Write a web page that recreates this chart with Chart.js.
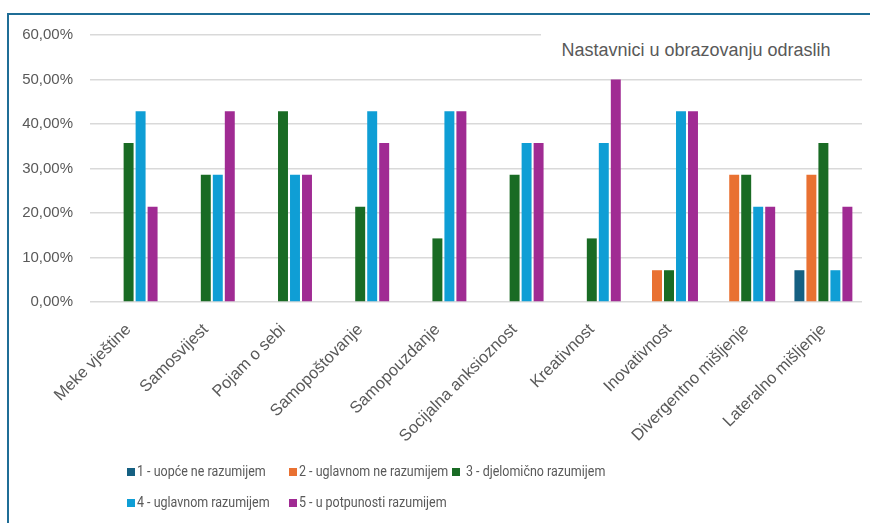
<!DOCTYPE html>
<html>
<head>
<meta charset="utf-8">
<script src="https://cdn.jsdelivr.net/npm/chart.js@4.4.1/dist/chart.umd.min.js"></script>
<style>
  html, body { margin: 0; padding: 0; background: #ffffff; }
  #wrap { position: relative; width: 870px; height: 523px; overflow: hidden; background: #fff; }
  #frame { position: absolute; left: 7px; top: 13px; width: 880px; height: 530px;
           border-top: 2px solid #1f6d96; border-left: 2px solid #1f6d96; box-sizing: border-box; pointer-events: none; }
  #cv { position: absolute; left: 0; top: 0; }
  #title { position: absolute; left: 541px; top: 30px; width: 321px; height: 47px; background: #fff;
           box-sizing: border-box; padding-right: 11px;
           font-family: "Liberation Sans", Arial, sans-serif; font-size: 18px; color: #595959;
           text-align: center; line-height: 40px; }
  #legend { position: absolute; left: 127px; top: 462px; display: grid;
            grid-template-columns: 162px 163px 200px; row-gap: 12px;
            font-family: Roboto, "Liberation Sans", sans-serif; font-size: 14.5px; color: #595959; }
  .li { display: flex; align-items: center; height: 19px; white-space: nowrap; }
  .sw { width: 8px; height: 8px; margin-right: 2px; flex: none; }
  .tx { display: inline-block; transform: scaleX(0.86); transform-origin: 0 50%; }
</style>
</head>
<body>
<div id="wrap">
  <canvas id="cv" width="870" height="523"></canvas>
  <div id="title"></div>
  <div id="legend"></div>
  <div id="frame"></div>
</div>
<script>
const chartTitle = "Nastavnici u obrazovanju odraslih";
const categories = ["Meke vještine", "Samosvijest", "Pojam o sebi", "Samopoštovanje", "Samopouzdanje",
                    "Socijalna anksioznost", "Kreativnost", "Inovativnost", "Divergentno mišljenje", "Lateralno mišljenje"];
const seriesNames = ["1 - uopće ne razumijem", "2 - uglavnom ne razumijem", "3 - djelomično razumijem",
                     "4 - uglavnom razumijem", "5 - u potpunosti razumijem"];
const seriesColors = ["#156082", "#E97132", "#196B24", "#0F9ED5", "#A02B93"];
const s1 = [null, null, null, null, null, null, null, null, null, 7.14];
const s2 = [null, null, null, null, null, null, null, 7.14, 28.57, 28.57];
const s3 = [35.71, 28.57, 42.86, 21.43, 14.29, 28.57, 14.29, 7.14, 28.57, 35.71];
const s4 = [42.86, 28.57, 28.57, 42.86, 42.86, 35.71, 35.71, 42.86, 21.43, 7.14];
const s5 = [21.43, 42.86, 28.57, 35.71, 42.86, 35.71, 50.00, 42.86, 21.43, 21.43];
const seriesValues = [s1, s2, s3, s4, s5];
const yTicks = [0, 10, 20, 30, 40, 50, 60];

document.getElementById('title').textContent = chartTitle;
const leg = document.getElementById('legend');
seriesNames.forEach((n, i) => {
  const d = document.createElement('div'); d.className = 'li';
  const sw = document.createElement('span'); sw.className = 'sw'; sw.style.background = seriesColors[i];
  if (i === 2) sw.style.marginRight = '6px';
  const t = document.createElement('span'); t.className = 'tx'; t.textContent = n;
  d.appendChild(sw); d.appendChild(t); leg.appendChild(d);
});

const fontFam = '"Liberation Sans", Arial, sans-serif';
new Chart(document.getElementById('cv'), {
  type: 'bar',
  data: {
    labels: categories,
    datasets: seriesNames.map((n, i) => ({
      label: n, data: seriesValues[i], backgroundColor: seriesColors[i], borderWidth: 0,
      categoryPercentage: 0.777, barPercentage: 0.83
    }))
  },
  options: {
    responsive: false, animation: false,
    layout: { padding: { left: 0, top: 35, right: 8, bottom: 0 } },
    plugins: { legend: { display: false }, tooltip: { enabled: false } },
    scales: {
      x: {
        grid: { display: false, drawTicks: false },
        border: { display: false },
        ticks: { color: '#595959', font: { family: fontFam, size: 16.5 }, minRotation: 45, maxRotation: 45,
                 padding: 18, labelOffset: 0, autoSkip: false },
        afterFit: (s) => { s.height = 221; }
      },
      y: {
        min: 0, max: 60,
        afterBuildTicks: (s) => { s.ticks = yTicks.map(v => ({ value: v })); },
        grid: { color: '#d9d9d9', lineWidth: 1.5, drawTicks: false },
        border: { display: false },
        ticks: { color: '#595959', font: { family: fontFam, size: 15 }, padding: 17,
                 callback: (v) => v.toFixed(2).replace('.', ',') + '%' },
        afterFit: (s) => { s.width = 90; }
      }
    }
  }
});
</script>
</body>
</html>
